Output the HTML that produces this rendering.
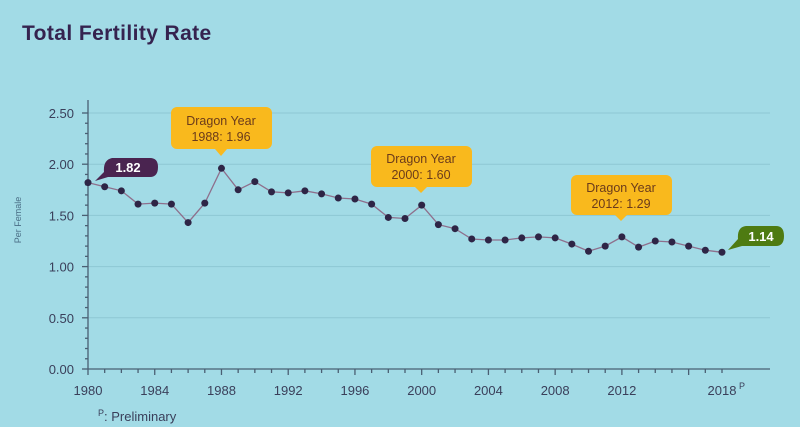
<!DOCTYPE html>
<html><head><meta charset="utf-8"><style>
html,body{margin:0;padding:0;background:#a2dbe6;}
svg{display:block;font-family:"Liberation Sans",sans-serif;}
</style></head><body>
<svg id="c" width="800" height="427" viewBox="0 0 800 427" xmlns="http://www.w3.org/2000/svg">
<rect width="800" height="427" fill="#a2dbe6"/>
<text x="22" y="40" font-size="21" font-weight="bold" letter-spacing="0.4" fill="#35234f">Total Fertility Rate</text>
<text x="21" y="220" font-size="9" fill="#4a6e86" transform="rotate(-90 21 220)" text-anchor="middle">Per Female</text>
<g id="grid" stroke="#8ec7d4" stroke-width="1"></g>
<g id="axes" stroke="#4a5f73" stroke-width="1.3" fill="none"></g>
<g id="lbl" font-size="13" fill="#3a3f5a"></g>
<polyline id="line" fill="none" stroke="#8e6f8c" stroke-width="1.3"/>
<g id="pts" fill="#2e2546"></g>
<path d="M95,181 L104,172 Q103,160 112,158 L150,158 Q158,158 158,167 Q158,177 150,177 L108,177 Z" fill="#4a2450"/>
<text x="128" y="172" font-size="13" font-weight="bold" fill="#fff" text-anchor="middle">1.82</text>
<path d="M728,250 L738,239 Q737,227 746,226 L776,226 Q784,226 784,236 Q784,246 776,246 L742,246 Z" fill="#4e7b12"/>
<text x="761" y="241" font-size="13" font-weight="bold" fill="#fff" text-anchor="middle">1.14</text>
<g font-size="12.5" fill="#6b3b1b" text-anchor="middle">
<rect x="171" y="107" width="101" height="42" rx="6" fill="#f9b91d"/><path d="M215,149 L221,156 L227,149Z" fill="#f9b91d"/>
<text x="221" y="125">Dragon Year</text><text x="221" y="141">1988: 1.96</text>
<rect x="371" y="146" width="101" height="41" rx="6" fill="#f9b91d"/><path d="M415,187 L421,193 L427,187Z" fill="#f9b91d"/>
<text x="421" y="163">Dragon Year</text><text x="421" y="179">2000: 1.60</text>
<rect x="571" y="175" width="101" height="40" rx="6" fill="#f9b91d"/><path d="M615,215 L621,221 L627,215Z" fill="#f9b91d"/>
<text x="621" y="192">Dragon Year</text><text x="621" y="208">2012: 1.29</text>
</g>
<text x="98" y="421" font-size="13" fill="#3a3f5a"><tspan font-size="9" dy="-5">P</tspan><tspan dy="5">:  Preliminary</tspan></text>
</svg>
<script>
var NS="http://www.w3.org/2000/svg";
function el(p,t,a,txt){var e=document.createElementNS(NS,t);for(var k in a)e.setAttribute(k,a[k]);if(txt)e.textContent=txt;document.getElementById(p).appendChild(e);return e;}
var X0=88,Y0=369,YS=102.4,XS=(722-88)/38;
function y(v){return Y0-v*YS;}function x(yr){return X0+(yr-1980)*XS;}
for(var i=1;i<=5;i++){el("grid","line",{x1:88,x2:770,y1:y(i*0.5),y2:y(i*0.5)});}
el("axes","line",{x1:88,y1:100,x2:88,y2:369});
el("axes","line",{x1:88,y1:369,x2:770,y2:369});
for(var v=0;v<=2.5001;v+=0.1){var major=Math.abs(v*2-Math.round(v*2))<1e-6;el("axes","line",{x1:major?82:85,x2:88,y1:y(v),y2:y(v)});}
for(var yr=1980;yr<=2018;yr++){var m=(yr%4==0);el("axes","line",{x1:x(yr),x2:x(yr),y1:369,y2:m?375:373});}
["0.00","0.50","1.00","1.50","2.00","2.50"].forEach(function(s,i){el("lbl","text",{x:74,y:y(i*0.5)+5,"text-anchor":"end"},s);});
[1980,1984,1988,1992,1996,2000,2004,2008,2012].forEach(function(yr){el("lbl","text",{x:x(yr),y:395,"text-anchor":"middle"},String(yr));});
el("lbl","text",{x:x(2018),y:395,"text-anchor":"middle"},"2018");
el("lbl","text",{x:x(2018)+17,y:389,"font-size":9},"P");
var d=[1.82,1.78,1.74,1.61,1.62,1.61,1.43,1.62,1.96,1.75,1.83,1.73,1.72,1.74,1.71,1.67,1.66,1.61,1.48,1.47,1.60,1.41,1.37,1.27,1.26,1.26,1.28,1.29,1.28,1.22,1.15,1.20,1.29,1.19,1.25,1.24,1.20,1.16,1.14];
var pts=d.map(function(v,i){return x(1980+i).toFixed(1)+","+y(v).toFixed(1);});
document.getElementById("line").setAttribute("points",pts.join(" "));
d.forEach(function(v,i){el("pts","circle",{cx:x(1980+i),cy:y(v),r:3.5});});
</script>
</body></html>
